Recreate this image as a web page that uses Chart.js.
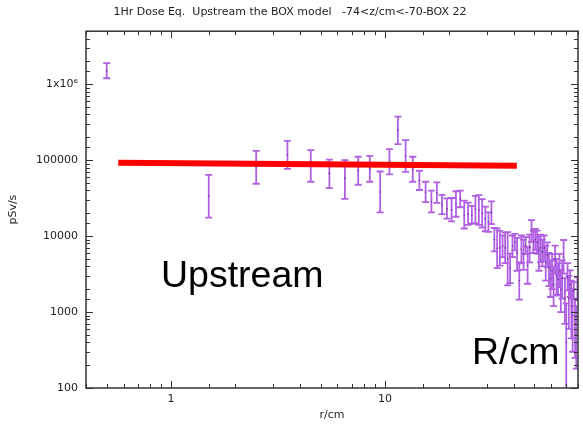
<!DOCTYPE html>
<html>
<head>
<meta charset="utf-8">
<script src="https://cdn.jsdelivr.net/npm/chart.js@4/dist/chart.umd.min.js"></script>
<style>
  body { margin: 0; background: #fff; }
</style>
</head>
<body>
<canvas id="doseChart" width="583" height="425"></canvas>
<script>
// r in cm, dose in pSv/s (centre value, lower and upper end of the error bar)
const radius = [
  0.5, 1.5, 2.5, 3.5, 4.5, 5.5, 6.5, 7.5, 8.5, 9.5,
  10.5, 11.5, 12.5, 13.5, 14.5, 15.5, 16.5, 17.5, 18.5, 19.5,
  20.5, 21.5, 22.5, 23.5, 24.5, 25.5, 26.5, 27.5, 28.5, 29.5,
  30.5, 31.5, 32.5, 33.5, 34.5, 35.5, 36.5, 37.5, 38.5, 39.5,
  40.5, 41.5, 42.5, 43.5, 44.5, 45.5, 46.5, 47.5, 48.5, 49.5,
  50.5, 51.5, 52.5, 53.5, 54.5, 55.5, 56.5, 57.5, 58.5, 59.5,
  60.5, 61.5, 62.5, 63.5, 64.5, 65.5, 66.5, 67.5, 68.5, 69.5,
  70.5, 71.5, 72.5, 73.5, 74.5, 75.5, 76.5, 77.5, 78.5, 79.5
];
const dose = [
  1500000, 34000, 82000, 118000, 85000, 67000, 58000, 73000, 77000, 38000,
  96000, 247000, 113000, 76000, 54000, 38000, 28500, 37500, 26000, 23000,
  22000, 26500, 31000, 19000, 19500, 19000, 22500, 22000, 20000, 17000,
  15300, 20500, 9000, 6900, 7000, 7400, 7000, 5000, 3800, 7400,
  8300, 6000, 2600, 6700, 5800, 7500, 4100, 7000, 11700, 8500,
  9000, 8300, 6500, 7000, 6200, 7000, 4500, 5700, 3800, 2750,
  3500, 2300, 4900, 3000, 2700, 3500, 2000, 2800, 5300, 1500,
  400, 2900, 1500, 2300, 1200, 900, 1900, 700, 500, 2000
];
const doseLo = [
  1200000, 17500, 49000, 77000, 52000, 43000, 31000, 47500, 52000, 20500,
  65000, 163000, 70000, 52000, 40500, 28000, 20500, 27500, 19500, 17000,
  15600, 18000, 24000, 12600, 14100, 14600, 14700, 14100, 13000, 11600,
  11400, 14400, 6300, 3800, 4100, 5300, 4400, 2240, 2400, 5300,
  6500, 3500, 1460, 4380, 3600, 5850, 2360, 4500, 8400, 6000,
  6600, 5860, 3500, 4550, 4000, 4780, 2600, 3900, 2200, 1580,
  2000, 1200, 3200, 1700, 1650, 2130, 1000, 1500, 3200, 700,
  40, 1930, 600, 1580, 450, 300, 1500, 250, 180, 1430
];
const doseHi = [
  1900000, 64000, 133000, 180000, 136000, 102000, 100000, 111000, 114000, 71000,
  140000, 374000, 184000, 111000, 72600, 52000, 39700, 51000, 35000, 31500,
  31800, 39000, 39700, 29300, 27700, 25000, 34000, 34700, 30800, 24500,
  20500, 28700, 12800, 12600, 11700, 10200, 11100, 11300, 5900, 10200,
  10700, 9500, 4500, 10200, 9000, 9700, 7200, 10500, 16300, 12000,
  12500, 11800, 10000, 10500, 9000, 10200, 7500, 8300, 6000, 4780,
  5800, 4000, 7500, 5000, 4400, 5850, 3600, 4800, 8900, 2800,
  1300, 4400, 3000, 3540, 2600, 2000, 2480, 1500, 1200, 2870
];

// hand-drawn red line over the upstream plateau
const fitR = [0.566, 41.4];
const fitDose = [92500, 84400];

const xTickValues = [1, 10];
const xTickText = ["1", "10"];
const yTickValues = [100, 1000, 10000, 100000, 1000000];
const yTickText = ["100", "1000", "10000", "100000", "1x10\u2076"];

const barColor = "rgb(176, 96, 226)";
const dotColor = "#6a3590";
const textColor = "#222";
const tickFont = { family: "DejaVu Sans", size: 11 };

const isDecade = (v) => Math.abs(Math.log10(v) - Math.round(Math.log10(v))) < 1e-9;

// vertical error bars with small caps
const errorBars = {
  id: "errorBars",
  beforeDatasetsDraw(chart) {
    const { ctx, chartArea: a, scales: { x, y } } = chart;
    ctx.save();
    ctx.beginPath();
    ctx.rect(a.left, a.top, a.right - a.left, a.bottom - a.top);
    ctx.clip();
    ctx.strokeStyle = barColor;
    ctx.lineWidth = 1.8;
    radius.forEach((r, i) => {
      const px = x.getPixelForValue(r);
      const top = y.getPixelForValue(doseHi[i]);
      const bot = y.getPixelForValue(doseLo[i]);
      ctx.beginPath();
      ctx.moveTo(px, top);
      ctx.lineTo(px, bot);
      ctx.moveTo(px - 3.5, top);
      ctx.lineTo(px + 3.5, top);
      ctx.moveTo(px - 3.5, bot);
      ctx.lineTo(px + 3.5, bot);
      ctx.stroke();
    });
    ctx.restore();
  },
};

// gnuplot style frame with inward ticks on all four sides
const frameTicks = {
  id: "frameTicks",
  afterDraw(chart) {
    const { ctx, chartArea: a, scales: { x, y } } = chart;
    ctx.save();
    ctx.strokeStyle = "#333";
    ctx.lineWidth = 1;
    ctx.beginPath();
    x.ticks.forEach((t) => {
      const px = Math.round(x.getPixelForValue(t.value)) + 0.5;
      const len = isDecade(t.value) ? 7 : 4;
      ctx.moveTo(px, a.bottom);
      ctx.lineTo(px, a.bottom - len);
      ctx.moveTo(px, a.top);
      ctx.lineTo(px, a.top + len);
    });
    y.ticks.forEach((t) => {
      const py = Math.round(y.getPixelForValue(t.value)) + 0.5;
      const len = isDecade(t.value) ? 7 : 4;
      ctx.moveTo(a.left, py);
      ctx.lineTo(a.left + len, py);
      ctx.moveTo(a.right, py);
      ctx.lineTo(a.right - len, py);
    });
    ctx.stroke();
    ctx.lineWidth = 1.5;
    ctx.strokeRect(a.left, a.top, a.right - a.left, a.bottom - a.top);

    // pasted annotations
    ctx.fillStyle = "#000";
    ctx.font = '37.5px "Liberation Sans"';
    ctx.fillText("Upstream", 161, 287);
    ctx.fillText("R/cm", 472, 364);
    ctx.restore();
  },
};

new Chart(document.getElementById("doseChart"), {
  type: "scatter",
  data: {
    datasets: [
      {
        label: "fit",
        data: fitR.map((r, i) => ({ x: r, y: fitDose[i] })),
        showLine: true,
        borderColor: "#ff0000",
        borderWidth: 6,
        borderCapStyle: "butt",
        pointRadius: 0,
      },
      {
        label: "dose",
        data: radius.map((r, i) => ({ x: r, y: dose[i] })),
        pointRadius: 0.8,
        pointBorderWidth: 0,
        pointBackgroundColor: dotColor,
      },
    ],
  },
  options: {
    responsive: false,
    animation: false,
    layout: { padding: { left: 0, right: 3, top: 0, bottom: 0 } },
    plugins: {
      legend: { display: false },
      tooltip: { enabled: false },
      title: {
        display: true,
        text: "1Hr Dose Eq.  Upstream the BOX model   -74<z/cm<-70-BOX 22",
        color: textColor,
        font: { family: "DejaVu Sans", size: 11, weight: "normal" },
        padding: { top: 6, bottom: 12 },
      },
    },
    scales: {
      x: {
        type: "logarithmic",
        min: 0.4,
        max: 80,
        grid: { display: false, drawTicks: false },
        border: { display: false },
        ticks: {
          autoSkip: false,
          maxRotation: 0,
          padding: 5,
          color: textColor,
          font: tickFont,
          callback: (v) => {
            const i = xTickValues.indexOf(v);
            return i >= 0 ? xTickText[i] : "";
          },
        },
        title: { display: true, text: "r/cm", color: textColor, font: tickFont, padding: { top: 0, bottom: 3 } },
        afterFit: (s) => { s.height = 37; },
      },
      y: {
        type: "logarithmic",
        min: 100,
        max: 5000000,
        grid: { display: false, drawTicks: false },
        border: { display: false },
        ticks: {
          autoSkip: false,
          padding: 8,
          color: textColor,
          font: tickFont,
          callback: (v) => {
            const i = yTickValues.indexOf(v);
            return i >= 0 ? yTickText[i] : "";
          },
        },
        title: { display: true, text: "pSv/s", color: textColor, font: tickFont, padding: { top: 7, bottom: 0 } },
        afterFit: (s) => { s.width = 86; },
      },
    },
  },
  plugins: [errorBars, frameTicks],
});
</script>
</body>
</html>
